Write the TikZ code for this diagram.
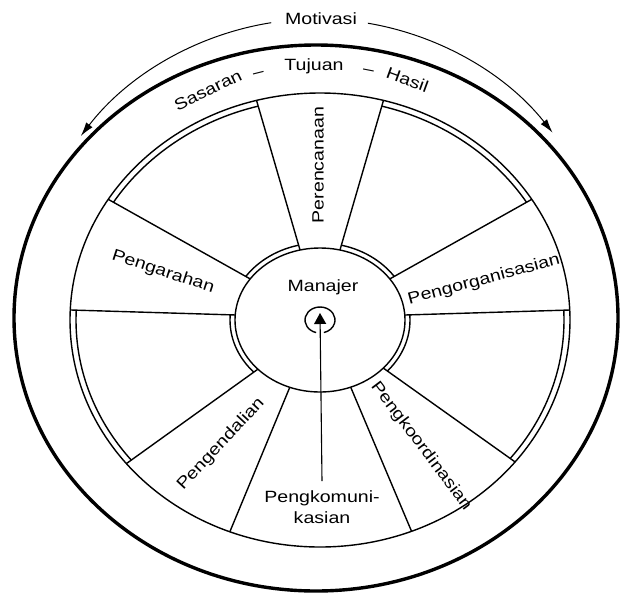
\documentclass[tikz,border=0pt]{standalone}
\usepackage{fontspec}
\setmainfont{Liberation Sans}[FakeStretch=1.2]
\usetikzlibrary{calc,arrows.meta}
\begin{document}
\begin{tikzpicture}[x=1pt,y=-1pt,
  lbl/.style={font=\fontsize{16.3}{21.5}\selectfont, inner sep=0pt},
  ring/.style={line width=1.4pt},
  spoke/.style={line width=1.4pt},
  tire/.style={line width=3.4pt},
  motarc/.style={line width=1pt, -{Latex[length=14pt,width=8pt]}}
]
\useasboundingbox (0,0) rectangle (621,598);
\coordinate (C) at (320,320);
\coordinate (M) at (318,318);
% spoke end points (outer o, inner i)
\coordinate (o1) at (257,102);  \coordinate (i1) at (298,243);
\coordinate (o2) at (383,102);  \coordinate (i2) at (342,243);
\coordinate (o3) at (527,202);  \coordinate (i3) at (395,276);
\coordinate (o4) at (570,310);  \coordinate (i4) at (405,315);
\coordinate (o5) at (511,459);  \coordinate (i5) at (393,375);
\coordinate (o6) at (411,530);  \coordinate (i6) at (354,395);
\coordinate (o7) at (231,529);  \coordinate (i7) at (287,394);
\coordinate (o8) at (130,461);  \coordinate (i8) at (247,377);
\coordinate (o9) at (71,310);   \coordinate (i9) at (236,315);
\coordinate (o10) at (113,202); \coordinate (i10) at (245,276);
% rings under the segments
\draw[ring] (C) ellipse[x radius=244, y radius=221];
\draw[ring] (C) ellipse[x radius=90, y radius=77];
% labelled segments
\begin{scope}
  \clip (C) ellipse[x radius=250, y radius=227];
  \foreach \a/\b in {1/2,3/4,5/6,6/7,7/8,9/10} {
    \fill[white] ($(o\a)!-0.3!(i\a)$) -- ($(o\a)!1.3!(i\a)$) -- ($(o\b)!1.3!(i\b)$) -- ($(o\b)!-0.3!(i\b)$) -- cycle;
  }
  \foreach \k in {1,...,10} {
    \draw[spoke] ($(o\k)!-0.3!(i\k)$) -- ($(o\k)!1.3!(i\k)$);
  }
\end{scope}
\draw[ring, fill=white] (C) ellipse[x radius=85, y radius=72];
\draw[ring] (C) ellipse[x radius=250, y radius=227];
% tire
\draw[tire] (316,318) ellipse[x radius=302, y radius=273];
% motivasi arc
\coordinate (mL0) at ($(M)+(-99:299)$);
\coordinate (mR0) at ($(M)+(-80.4:299)$);
\draw[motarc] (mL0) arc[start angle=-99, end angle=-142.5, radius=299];
\draw[motarc] (mR0) arc[start angle=-80.4, end angle=-38.3, radius=299];
\node[lbl] (motivasi) at (321,19) {Motivasi};
% goals along the rim
\node[lbl, anchor=base, rotate=26] (sasaran) at (210.4,95.3) {Sasaran};
\node[lbl, anchor=base, rotate=14] (d1) at (259.5,77.4) {--};
\node[lbl, anchor=base] (tujuan) at (314,70) {Tujuan};
\node[lbl, anchor=base, rotate=-11] (d2) at (367.7,74.6) {--};
\node[lbl, anchor=base, rotate=-20] (hasil) at (405.5,85.1) {Hasil};
% segment labels
\node[lbl, rotate=90] (renc) at (318,165) {Perencanaan};
\node[lbl, rotate=15] (org) at (484,280) {Pengorganisasian};
\node[lbl, rotate=-53] (koord) at (421,446) {Pengkoordinasian};
\node[lbl, align=center] (komu) at (322,507) {Pengkomuni-\\kasian};
\node[lbl, rotate=47] (kend) at (221,444) {Pengendalian};
\node[lbl, rotate=-18] (arah) at (163,272) {Pengarahan};
\node[lbl] (manajer) at (323,287) {Manajer};
% centre
\draw[ring] ($(C)+(105:15 and 13)$) arc[start angle=105, end angle=435, x radius=15, y radius=13];
\coordinate (astart) at (322,481);
\coordinate (atip) at (320,313);
\draw[line width=1.1pt, -{Triangle[length=11pt,width=12pt]}] (astart) -- (atip);
\end{tikzpicture}
\end{document}
